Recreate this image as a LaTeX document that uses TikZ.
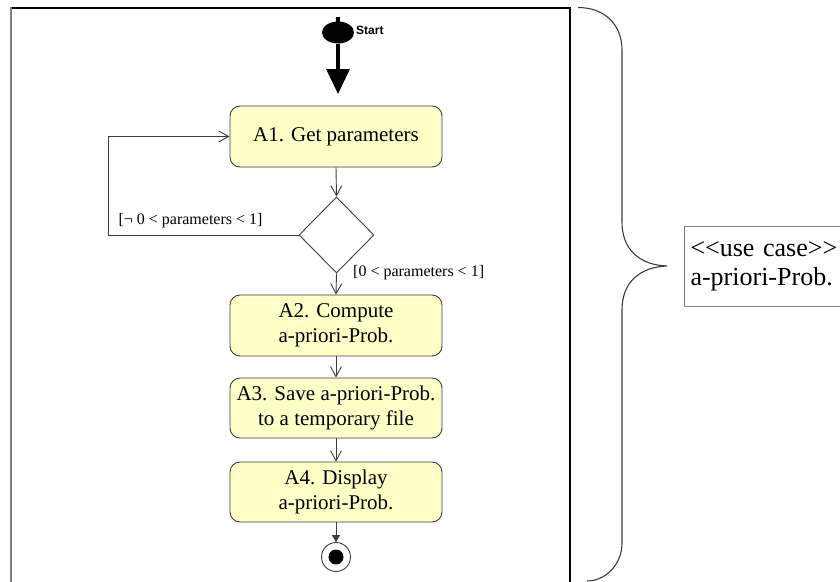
\documentclass[tikz,border=0pt]{standalone}
\usepackage{fontspec}
\setmainfont{Liberation Serif}
\newfontfamily\startfont{Liberation Sans}
\usetikzlibrary{arrows.meta,shapes.geometric}
\definecolor{actfill}{RGB}{255,255,200}
\definecolor{linegray}{RGB}{60,60,60}
\tikzset{
  act/.style={rectangle, rounded corners=10pt, draw=linegray, line width=0.9pt, fill=actfill,
    minimum width=212pt, align=center, inner sep=0pt, font=\fontsize{21}{25}\selectfont},
  flow/.style={draw=linegray, line width=0.9pt, -{Straight Barb[length=10pt,width=11pt]}},
  guard/.style={font=\fontsize{16}{18}\selectfont, inner sep=0pt},
}
\begin{document}
\begin{tikzpicture}[x=1pt,y=-1pt]
\useasboundingbox (0,0) rectangle (840,581);
\clip (0,0) rectangle (840,581);
% frame
\draw[black, line width=1.1pt] (11,8) -- (570,8) -- (570,590);
\draw[gray, line width=2pt] (11,7.4) -- (11,590);
% start
\node[ellipse, fill=black, minimum width=32pt, minimum height=22pt, inner sep=0pt] (start) at (338,32.5) {};
\fill (336,17) rectangle (340,23);
\coordinate (startend) at (338,94);
\draw[line width=3.2pt, -{Triangle[length=25pt,width=23pt]}] (start.south) -- (startend);
\node[font=\startfont\bfseries\fontsize{12}{13}\selectfont, anchor=west, inner sep=0pt] (startlbl) at (356,30) {Start};
% activities
\node[act, minimum height=61pt] (a1) at (336,136.5) {A1. Get parameters};
\node[diamond, draw=linegray, line width=0.9pt, fill=white, minimum width=75pt, minimum height=76pt, inner sep=0pt] (dec) at (336.5,235) {};
\node[act, minimum height=61pt] (a2) at (336,325.5) {A2. Compute\\a-priori-Prob.};
\node[act, minimum height=60pt] (a3) at (336,408) {A3. Save a-priori-Prob.\\to a temporary file};
\node[act, minimum height=60pt] (a4) at (336,492) {A4. Display\\a-priori-Prob.};
\node[circle, draw=linegray, line width=0.9pt, fill=white, minimum size=29pt, inner sep=0pt] (end) at (336,557) {};
\node[circle, fill=black, minimum size=15pt, inner sep=0pt] (enddot) at (end) {};
% connectors
\draw[flow] (a1.south) -- (dec.north);
\draw[flow] (dec.south) -- (a2.north);
\draw[flow] (a2.south) -- (a3.north);
\draw[flow] (a3.south) -- (a4.north);
\draw[draw=linegray, line width=0.9pt, -{Triangle[length=7pt,width=8pt]}] (a4.south) -- (end.north);
\draw[flow] (dec.west) -- (108,235) |- (a1.west);
\node[guard] (g1) at (190.5,221) {[¬ 0 < parameters < 1]};
\node[guard, anchor=west] (g2) at (353,273) {[0 < parameters < 1]};
% brace
\draw[linegray, line width=1.1pt] (578,7.5) .. controls (605,7.5) and (622,25) .. (622,50)
  -- (622,222) .. controls (622,250) and (640,265) .. (667,266)
  .. controls (640,267) and (622,282) .. (622,310)
  -- (622,543) .. controls (622,565) and (605,581) .. (587,581);
% use case
\node[rectangle, draw=gray, line width=1pt, anchor=north west, minimum height=80pt,
  text width=165pt, inner xsep=6pt, inner ysep=0pt, align=left,
  font=\fontsize{26}{29}\selectfont] (uc) at (684,226) {<{}<use case>{}>\\a-priori-Prob.};
\end{tikzpicture}
\end{document}
